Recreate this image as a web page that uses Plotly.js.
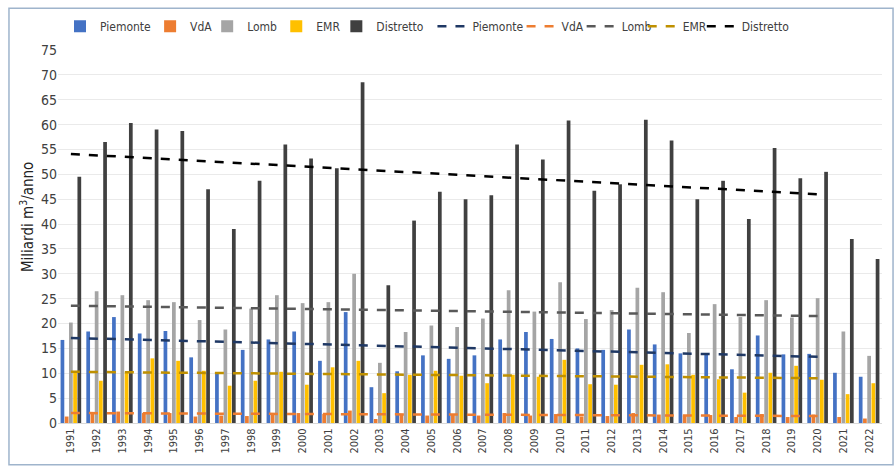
<!DOCTYPE html>
<html>
<head>
<meta charset="utf-8">
<script src="https://cdn.plot.ly/plotly-3.0.1.min.js"></script>
<style>html,body{margin:0;padding:0;background:#fff;}#chart{width:896px;height:468px;}</style>
</head>
<body>
<div id="chart"></div>
<script>
var years = ['1991','1992','1993','1994','1995','1996','1997','1998','1999','2000','2001','2002','2003','2004','2005','2006','2007','2008','2009','2010','2011','2012','2013','2014','2015','2016','2017','2018','2019','2020','2021','2022'];
var piemonte = [16.7,18.4,21.3,18.0,18.5,13.2,10.2,14.7,16.8,18.4,12.5,22.3,7.2,10.4,13.6,12.9,13.6,16.8,18.3,16.9,15.0,14.7,18.8,15.8,14.0,13.8,10.8,17.6,13.8,13.9,10.1,9.3];
var vda = [1.3,2.0,2.3,2.0,2.0,1.3,1.5,1.4,2.0,2.0,1.8,2.5,0.8,1.7,1.5,1.7,1.5,2.0,1.5,1.8,1.3,1.4,2.0,1.7,1.5,1.6,1.2,1.8,1.2,1.7,1.2,0.9];
var lomb = [20.2,26.5,25.7,24.7,24.3,20.7,18.8,23.0,25.7,24.1,24.3,30.0,12.1,18.3,19.6,19.3,21.0,26.7,22.4,28.3,20.9,22.7,27.2,26.3,18.1,23.9,21.3,24.7,21.2,25.1,18.4,13.5];
var emr = [10.3,8.5,10.3,13.0,12.5,10.5,7.5,8.5,10.3,7.7,11.2,12.5,6.0,9.7,10.5,9.5,8.0,9.7,9.3,12.7,7.8,7.7,11.7,11.8,9.7,8.8,6.1,10.1,11.5,8.7,5.8,8.0];
var distretto = [49.5,56.5,60.3,59.0,58.7,47.0,39.0,48.7,56.0,53.2,51.2,68.5,27.7,40.7,46.5,45.0,45.8,56.0,53.0,60.8,46.7,48.0,61.0,56.8,45.0,48.7,41.0,55.3,49.2,50.5,37.0,33.0];

// trend lines: endpoints
var trendYears = ['1991','2020'];
var trendPiemonte = [17.1,13.3];
var trendVdA = [2.0,1.4];
var trendLomb = [23.6,21.5];
var trendEMR = [10.3,9.0];
var trendDistretto = [54.1,46.0];

var yTitle = 'Miliardi m<sup>3</sup>/anno';

var FONT = '"DejaVu Sans Condensed","DejaVu Sans",sans-serif';
var L = 58, PW = 823, T = 48, PH = 375;
// legend entry left edges in pixels (one legend per entry)
var legendPx = [60,150,207,276,336,432,521,581,642,701];

function bar(name, y, color, lg) {
  return {type:'bar', name:name, x:years, y:y, marker:{color:color}, legend:lg};
}
function trend(name, y, color, lg) {
  return {type:'scatter', mode:'lines', name:name, x:trendYears, y:y, legend:lg,
          line:{color:color, width:2.5, dash:'dash'}};
}

var data = [
  bar('Piemonte', piemonte, '#4472C4', 'legend'),
  bar('VdA', vda, '#ED7D31', 'legend2'),
  bar('Lomb', lomb, '#A5A5A5', 'legend3'),
  bar('EMR', emr, '#FFC000', 'legend4'),
  bar('Distretto', distretto, '#404040', 'legend5'),
  trend('Piemonte', trendPiemonte, '#1F3864', 'legend6'),
  trend('VdA', trendVdA, '#ED7D31', 'legend7'),
  trend('Lomb', trendLomb, '#595959', 'legend8'),
  trend('EMR', trendEMR, '#BF9000', 'legend9'),
  trend('Distretto', trendDistretto, '#000000', 'legend10')
];

var layout = {
  width:896, height:468,
  margin:{l:L, r:14, t:T, b:45},
  paper_bgcolor:'#fff', plot_bgcolor:'#fff',
  font:{family:FONT, color:'#404040', size:13},
  barmode:'group', bargap:0.18, bargroupgap:0.12,
  showlegend:true,
  xaxis:{type:'category', tickangle:-90, tickfont:{size:11, family:FONT, color:'#404040'},
         showgrid:false, showline:true, linecolor:'#D9D9D9', ticks:'', range:[-0.5,31.5]},
  yaxis:{range:[0,75], dtick:5, tick0:0, showgrid:true, gridcolor:'#EAEAEA', gridwidth:1,
         zeroline:false, showline:false, ticks:'', tickfont:{size:14, family:FONT, color:'#404040'}},
  annotations:[{text:yTitle, textangle:-90, xref:'paper', yref:'paper',
                x:(27 - L) / PW, y:(T + PH - 216) / PH, xanchor:'center', yanchor:'middle',
                showarrow:false, font:{size:15, family:FONT, color:'#222'}}],
  shapes:[{type:'rect', xref:'paper', yref:'paper', x0:-0.0595, x1:1.0134, y0:-0.112, y1:1.112,
           line:{color:'#9FB4CC', width:1.5}, fillcolor:'rgba(0,0,0,0)', layer:'below'}]
};
legendPx.forEach(function(px, i) {
  var key = i === 0 ? 'legend' : 'legend' + (i + 1);
  layout[key] = {orientation:'h', x:(px - L) / PW, xanchor:'left', y:1.064, yanchor:'middle',
                 font:{family:FONT, size:12, color:'#404040'}, itemwidth:30,
                 bgcolor:'rgba(0,0,0,0)', borderwidth:0};
});

Plotly.newPlot('chart', data, layout, {displayModeBar:false, staticPlot:true});
</script>
</body>
</html>
